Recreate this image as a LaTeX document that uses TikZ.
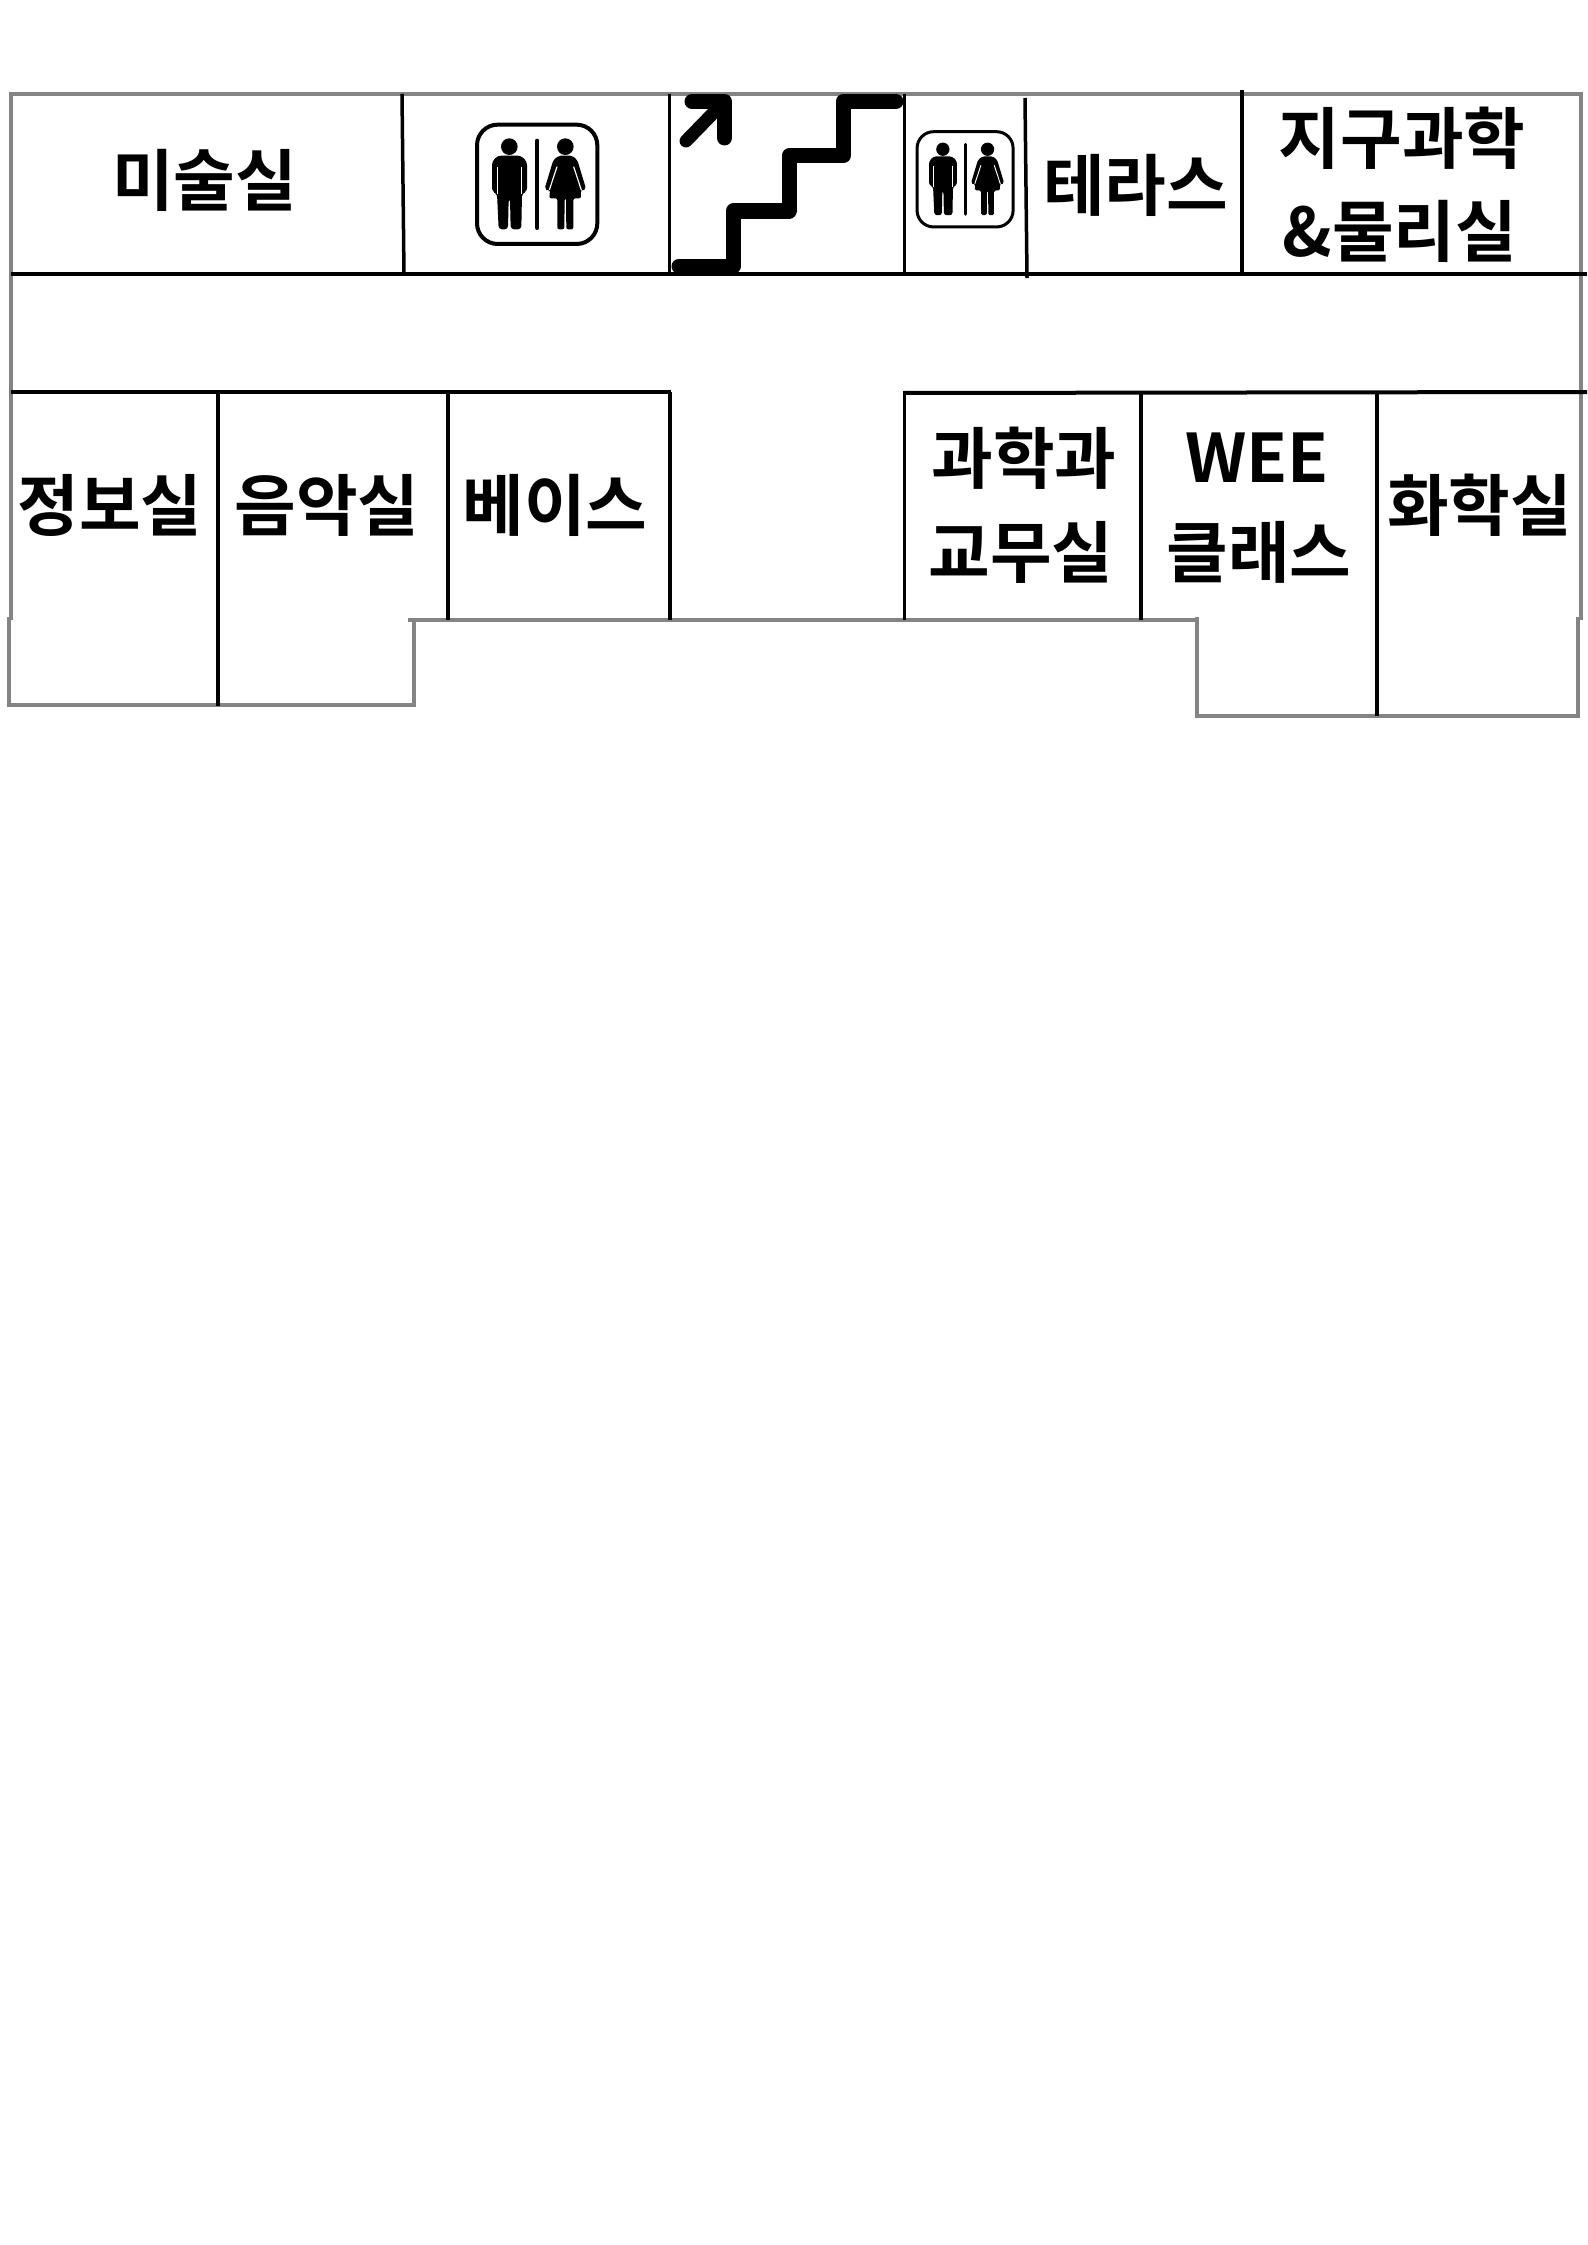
\documentclass[tikz,border=0pt]{standalone}
\usepackage{fontspec}
\setmainfont{Noto Sans CJK KR}[BoldFont={* Bold}]
\tikzset{
  wall/.style={draw=wallgray,line width=4pt,line cap=butt,line join=miter},
  part/.style={draw=black,line width=3.5pt},
  stair/.style={draw=black,line width=15pt,line cap=round,line join=round},
  room/.style={inner sep=0pt,font=\fontsize{67}{67}\selectfont\bfseries,anchor=center},
}
\definecolor{wallgray}{HTML}{848484}
\newcommand{\wcicon}[4]{%
\begin{scope}[shift={(#1,#2)},x=#3pt,y=-#3pt]
  \draw[line width=#4pt,rounded corners=#3*62pt] (51,44) rectangle (412,402);
  \fill (148,110) circle[radius=25];
  \fill[rounded corners=#3*10pt] (96,245) -- (96,155) -- (113,137) -- (183,137) -- (201,155) -- (201,245) -- (186,250) -- (184,358) -- (152,358) -- (150,265) -- (146,265) -- (144,358) -- (116,358) -- (111,250) -- cycle;
  \draw[white,line width=#3*3.5pt] (113,172) -- (113,252);
  \draw[white,line width=#3*3.5pt] (185,172) -- (185,252);
  \draw[line width=#3*12pt,line cap=round] (232,92) -- (232,354);
  \fill (316,110) circle[radius=25];
  \fill[rounded corners=#3*6pt] (254,236) -- (280,150) -- (297,137) -- (336,137) -- (352,150) -- (378,236) -- (366,244) -- (362,240) -- (363,265) -- (340,265) -- (340,358) -- (319,358) -- (318,265) -- (314,265) -- (313,358) -- (292,358) -- (292,265) -- (268,265) -- (270,240) -- (264,244) -- cycle;
  \draw[white,line width=#3*3.5pt] (291,170) -- (268,240);
  \draw[white,line width=#3*3.5pt] (341,170) -- (364,240);
\end{scope}}
\begin{document}
\begin{tikzpicture}[x=1pt,y=-1pt]
\useasboundingbox[fill=white] (0,0) rectangle (1587,2245);
% outer walls
\draw[wall] (9,94) -- (1583,94);
\draw[wall] (11,94) -- (11,620);
\draw[wall] (1581,94) -- (1581,620);
\draw[wall] (9,617) -- (9,705) -- (414,705) -- (414,619);
\draw[wall] (408,620) -- (1197,620);
\draw[wall] (1197,617) -- (1197,716) -- (1578,716) -- (1578,617);
% corridor
\draw[part,line width=4pt] (11,274) -- (1587,274);
\draw[part,line width=4pt] (11,392) -- (671,392);
\draw[part,line width=4pt] (903,393) -- (1587,392);
% top partitions
\draw[part] (402,94) -- (404,275);
\draw[part] (669.5,94) -- (669.5,275);
\draw[part] (904.5,94) -- (904.5,275);
\draw[part] (1025,98) -- (1027,278);
\draw[part] (1242,90) -- (1242,275);
% lower partitions
\draw[part] (218,392) -- (218,706);
\draw[part] (448,392) -- (448,620);
\draw[part] (670,392) -- (670,620);
\draw[part] (904.5,393) -- (904.5,620);
\draw[part] (1141,393) -- (1141,620);
\draw[part] (1377,393) -- (1377,716);
% stairs
\draw[stair] (679,266) -- (733,266) -- (733,211) -- (789,211) -- (789,156) -- (843,156) -- (843,101.5) -- (896,101.5);
\draw[stair,line width=13pt] (686,141) -- (722,104);
\draw[stair,line width=15pt] (692,101.5) -- (724.5,101.5) -- (724.5,138);
% toilets
\wcicon{460}{110}{0.3333}{4}
\wcicon{903.5}{120}{0.266}{3}
% labels
\node[room] (art) at (204.5,180) {미술실};
\node[room] (terrace) at (1135.5,185) {테라스};
\node[room] (earth) at (1402,138) {지구과학};
\node[room] (physics) at (1400,231) {\&물리실};
\node[room] (info) at (110,505) {정보실};
\node[room] (music) at (327,505) {음악실};
\node[room] (base) at (555,505) {베이스};
\node[room] (sci) at (1024,458) {과학과};
\node[room] (staff) at (1021,552) {교무실};
\node[room] (wee) at (1257,458) {WEE};
\node[room] (class) at (1259,552) {클래스};
\node[room] (chem) at (1479.5,505) {화학실};
\end{tikzpicture}
\end{document}
